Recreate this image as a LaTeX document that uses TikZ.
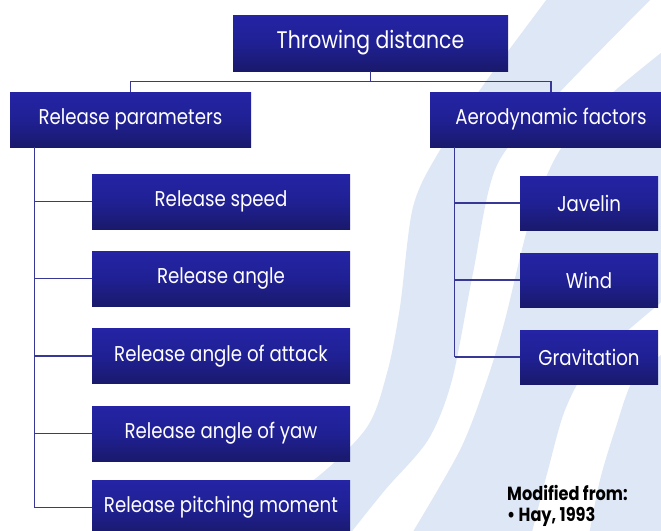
\documentclass[tikz,border=0pt]{standalone}
\usepackage{fontspec}
\setmainfont[FakeStretch=0.85]{Poppins}
\usetikzlibrary{shadings}
\definecolor{pale}{RGB}{221,231,246}
\definecolor{boxtop}{RGB}{36,36,165}
\definecolor{boxmid}{RGB}{32,32,148}
\definecolor{boxbot}{RGB}{25,25,108}
\definecolor{conncol}{RGB}{55,55,150}
\tikzset{
  box/.style={rectangle, inner sep=0pt, text=white, top color=boxtop, bottom color=boxbot, middle color=boxmid, font=\fontsize{21.4}{24}\selectfont},
  conn/.style={draw=conncol, line width=1.1pt},
}
\begin{document}
\begin{tikzpicture}[x=1pt,y=-1pt]
\useasboundingbox (0,0) rectangle (661,530);
\clip (0,0) rectangle (661,530);
\fill[white] (0,0) rectangle (661,530);
% background waves
\fill[pale] plot[smooth] coordinates {(550,-5) (487,80) (440,150) (413,207) (400,307) (387,373) (365,430) (300,490) (200,540)}
  -- plot[smooth] coordinates {(345,540) (385,490) (428,440) (452,380) (473,273) (497,165) (557,95) (655,-5)} -- cycle;
\fill[pale] plot[smooth] coordinates {(690,30) (610,95) (560,150) (530,220) (505,320) (487,380) (460,450) (408,540)}
  -- plot[smooth] coordinates {(530,540) (548,470) (565,410) (590,365) (640,320) (700,270)} -- cycle;
\fill[pale] plot[smooth] coordinates {(700,330) (661,355) (633,380) (615,430) (600,480) (588,540)} -- (700,540) -- cycle;
% boxes
\node[box, minimum width=275, minimum height=56, font=\fontsize{24}{26}\selectfont] (T) at (370.5,43) {Throwing distance};
\node[box, minimum width=241, minimum height=55] (RP) at (130.5,119.5) {Release parameters};
\node[box, minimum width=242, minimum height=55] (AF) at (551,119.5) {Aerodynamic factors};
\node[box, minimum width=258, minimum height=55] (L1) at (221,201.5) {Release speed};
\node[box, minimum width=258, minimum height=55] (L2) at (221,278.5) {Release angle};
\node[box, minimum width=258, minimum height=55] (L3) at (221,356) {Release angle of attack};
\node[box, minimum width=258, minimum height=55] (L4) at (221,433.5) {Release angle of yaw};
\node[box, minimum width=258, minimum height=55] (L5) at (221,507.5) {Release pitching moment};
\node[box, minimum width=138, minimum height=54] (R1) at (589,203) {Javelin};
\node[box, minimum width=138, minimum height=54] (R2) at (589,280) {Wind};
\node[box, minimum width=138, minimum height=54] (R3) at (589,357) {Gravitation};
% connectors
\draw[conn] (T.south) -- ++(0,10) coordinate (j) -| (RP.north);
\draw[conn] (j) -| (AF.north);
\path (RP.south west) ++(25,0) coordinate (lt);
\draw[conn] (lt) -- (lt |- L5.west);
\foreach \b in {L1,L2,L3,L4,L5} \draw[conn] (lt |- \b.west) -- (\b.west);
\path (AF.south west) ++(25,0) coordinate (rt);
\draw[conn] (rt) -- (rt |- R3.west);
\foreach \b in {R1,R2,R3} \draw[conn] (rt |- \b.west) -- (\b.west);
% note
\node[anchor=north west, align=left, inner sep=0pt, font=\fontsize{19}{21}\selectfont\bfseries] (note) at (507,485) {Modified from:\\\textbullet\ Hay, 1993};
\end{tikzpicture}
\end{document}
